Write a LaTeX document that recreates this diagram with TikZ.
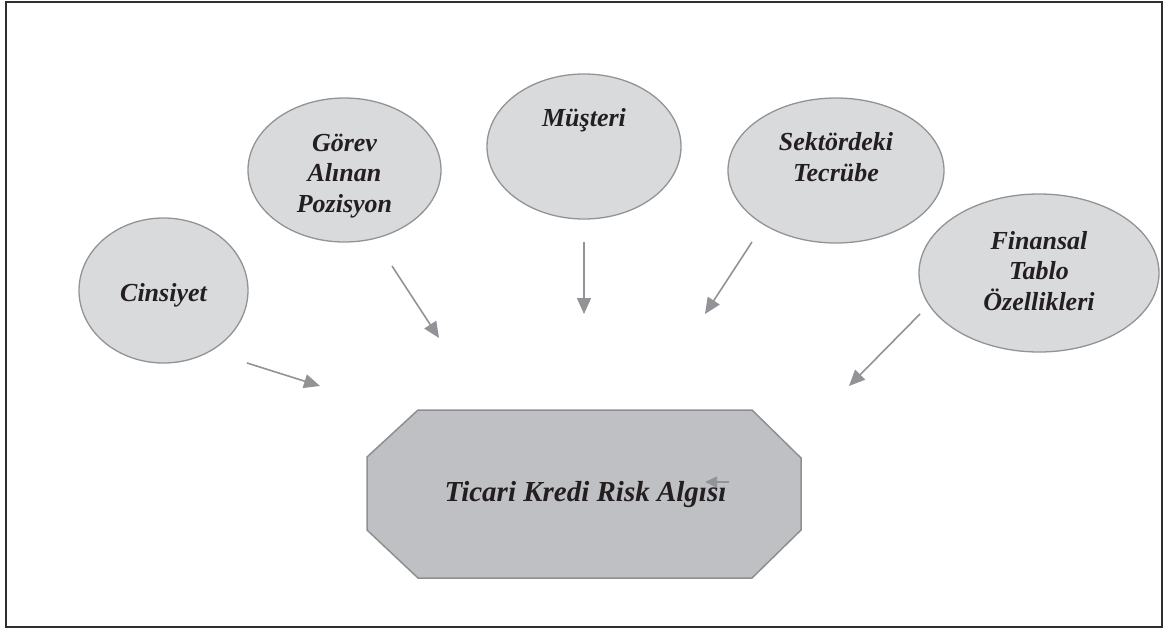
\documentclass[tikz,border=0pt]{standalone}
\usepackage{fontspec}
\setmainfont{Liberation Serif}
\usetikzlibrary{arrows.meta,shapes.geometric}

\definecolor{bubblefill}{HTML}{D9DADC}
\definecolor{bubbleline}{HTML}{929396}
\definecolor{octfill}{HTML}{BFC0C3}
\definecolor{octline}{HTML}{8E8F91}
\definecolor{arrowgray}{HTML}{929396}
\definecolor{inkdark}{HTML}{231F20}
\definecolor{framedark}{HTML}{2E2E2E}

\tikzset{
  frameline/.style={draw=framedark, line width=2pt},
  bubble/.style={ellipse, draw=bubbleline, fill=bubblefill, line width=1.3pt, inner sep=0pt},
  octagonbox/.style={draw=octline, fill=octfill, line width=1.5pt, line join=miter},
  label text/.style={font=\fontsize{26}{30.5}\selectfont\bfseries\itshape,
    text=inkdark, align=center, inner sep=0pt},
  center text/.style={label text, font=\fontsize{29}{33}\selectfont\bfseries\itshape},
  influence/.style={draw=arrowgray, line width=1.6pt,
    -{Triangle[length=16pt,width=14pt]}},
  small influence/.style={draw=arrowgray, line width=1.3pt,
    -{Triangle[length=12pt,width=11pt]}}
}

\begin{document}
\begin{tikzpicture}[x=1pt,y=-1pt]
\useasboundingbox (0,0) rectangle (1173,632);

% outer frame
\draw[frameline] (6,2) rectangle (1162,627);

% factor ellipses
\node[bubble, minimum width=169pt, minimum height=145pt] (cins) at (163.5,290.5) {};
\node[bubble, minimum width=193pt, minimum height=144pt] (gorev) at (344.5,170) {};
\node[bubble, minimum width=194pt, minimum height=145pt] (must) at (584,146.5) {};
\node[bubble, minimum width=216pt, minimum height=145pt] (sekt) at (836,170.5) {};
\node[bubble, minimum width=240pt, minimum height=158pt] (fin) at (1039,273) {};

% ellipse texts
\node[label text] (cinsT) at (163.5,295) {Cinsiyet};
\node[label text] (gorevT) at (344.5,176) {Görev\\Alınan\\Pozisyon};
\node[label text] (mustT) at (584,120) {Müşteri};
\node[label text] (sektT) at (836,157) {Sektördeki\\Tecrübe};
\node[label text] (finT) at (1039,271) {Finansal\\Tablo\\Özellikleri};

% central octagon
\draw[octagonbox] (418,410) -- (752,410) -- (801,458) -- (801,530) -- (752,578)
  -- (418,578) -- (367,530) -- (367,457) -- cycle;
\node[center text] (risk) at (585.5,495) {Ticari Kredi Risk Algısı};

% arrow end points
\coordinate (a1s) at (247,363);   \coordinate (a1e) at (320,386);
\coordinate (a2s) at (392,266);   \coordinate (a2e) at (439,338);
\coordinate (a3s) at (584,242);   \coordinate (a3e) at (584,314);
\coordinate (a4s) at (752,242);   \coordinate (a4e) at (705,314);
\coordinate (a5s) at (920,314);   \coordinate (a5e) at (849,386);
\coordinate (a6s) at (729,482);   \coordinate (a6e) at (705,482);

% arrows
\draw[influence] (a1s) -- (a1e);
\draw[influence] (a2s) -- (a2e);
\draw[influence] (a3s) -- (a3e);
\draw[influence] (a4s) -- (a4e);
\draw[influence] (a5s) -- (a5e);
\draw[small influence] (a6s) -- (a6e);
\end{tikzpicture}
\end{document}
